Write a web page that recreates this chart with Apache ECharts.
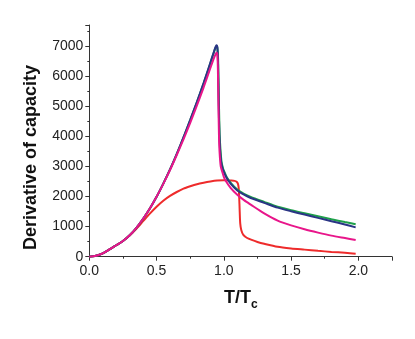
<!DOCTYPE html>
<html>
<head>
<meta charset="utf-8">
<script src="https://cdn.jsdelivr.net/npm/echarts@6/dist/echarts.min.js"></script>
<style>
html,body{margin:0;padding:0;background:#fff;}
#c{width:415px;height:339px;}
</style>
</head>
<body>
<div id="c"></div>
<script>
// ---- data ----
const xNavy = [0,0.05,0.1,0.15,0.2,0.25,0.3,0.35,0.4,0.45,0.5,0.55,0.6,0.65,0.7,0.75,0.8,0.85,0.9,0.93,0.945,0.952,0.957,0.962,0.967,0.972,0.98,0.99,1.0,1.02,1.05,1.1,1.15,1.2,1.3,1.4,1.5,1.6,1.7,1.8,1.9,1.98];
const yNavy = [0,30,110,240,380,520,710,960,1260,1600,1990,2430,2900,3420,3970,4550,5150,5780,6450,6860,7030,6950,6400,5000,4057,3557,3150,2950,2820,2620,2430,2200,2060,1950,1790,1630,1510,1400,1290,1180,1070,975];

const xGreen = [0,0.05,0.1,0.15,0.2,0.25,0.3,0.35,0.4,0.45,0.5,0.55,0.6,0.65,0.7,0.75,0.8,0.85,0.9,0.93,0.945,0.952,0.958,0.964,0.969,0.975,0.983,0.993,1.0,1.02,1.05,1.1,1.15,1.2,1.3,1.4,1.5,1.6,1.7,1.8,1.9,1.98];
const yGreen = [0,30,110,240,380,520,710,960,1260,1600,1990,2430,2900,3410,3960,4540,5130,5760,6430,6840,7000,6950,6500,5000,4057,3557,3150,2950,2860,2660,2460,2230,2090,1985,1820,1660,1545,1445,1345,1245,1150,1080];

const xMagenta = [0,0.05,0.1,0.15,0.2,0.25,0.3,0.35,0.4,0.45,0.5,0.55,0.6,0.65,0.7,0.75,0.8,0.85,0.9,0.93,0.945,0.952,0.956,0.96,0.964,0.968,0.977,0.99,1.0,1.01,1.05,1.1,1.15,1.2,1.3,1.4,1.5,1.6,1.7,1.8,1.9,1.98];
const yMagenta = [0,30,110,240,380,520,710,960,1260,1600,1990,2420,2880,3380,3900,4450,5030,5630,6270,6640,6780,6700,6200,5000,4000,3500,3000,2800,2650,2550,2290,2060,1880,1730,1440,1200,1040,910,800,700,620,557];

const xRed = [0,0.05,0.1,0.15,0.2,0.25,0.3,0.35,0.4,0.45,0.5,0.55,0.6,0.65,0.7,0.75,0.8,0.85,0.9,0.95,1.0,1.05,1.08,1.095,1.105,1.11,1.114,1.118,1.122,1.13,1.145,1.17,1.207,1.25,1.3,1.4,1.5,1.6,1.7,1.8,1.9,1.98];
const yRed = [0,30,110,240,380,520,705,930,1180,1430,1660,1860,2020,2150,2260,2340,2410,2460,2500,2530,2540,2530,2520,2490,2420,2300,2000,1500,1100,880,723,630,557,490,430,330,275,235,195,160,130,100];

const xTicks = [0,0.5,1.0,1.5,2.0];
const yTicks = [0,1000,2000,3000,4000,5000,6000,7000];
const yTitle = 'Derivative of capacity';
const xTitleMain = 'T/T';
const xTitleSub = 'c';

function zip(xs, ys){ return xs.map((x,i)=>[x, ys[i]]); }

const chart = echarts.init(document.getElementById('c'), null, {renderer:'canvas'});
const font = 'Liberation Sans, Arial, Helvetica, sans-serif';
function lineSeries(name, xs, ys, color){
  return {
    name, type:'line', data: zip(xs, ys), showSymbol:false,
    smooth:0.25,
    lineStyle:{color, width:2}, itemStyle:{color}, animation:false
  };
}
chart.setOption({
  animation:false,
  backgroundColor:'#fff',
  grid:{left:89.3, right:23, top:25, bottom:82.3, containLabel:false},
  xAxis:{
    type:'value', min:0, max:2.25, interval:0.5,
    axisLine:{show:true, onZero:false, lineStyle:{color:'#333', width:1}},
    axisTick:{show:true, length:4, inside:false, lineStyle:{color:'#333'}},
    minorTick:{show:true, splitNumber:2, length:2, lineStyle:{color:'#333'}},
    splitLine:{show:false},
    axisLabel:{show:true, color:'#222', fontSize:14, fontFamily:font, margin:7, showMaxLabel:false,
      formatter:v=> xTicks.includes(v) ? v.toFixed(1) : ''}
  },
  yAxis:{
    type:'value', min:0, max:7700, interval:1000,
    axisLine:{show:true, onZero:false, lineStyle:{color:'#333', width:1}},
    axisTick:{show:true, length:4, lineStyle:{color:'#333'}},
    minorTick:{show:true, splitNumber:2, length:2, lineStyle:{color:'#333'}},
    splitLine:{show:false},
    axisLabel:{show:true, color:'#222', fontSize:14, fontFamily:font, margin:6, showMaxLabel:false,
      formatter:v=> yTicks.includes(v) ? String(v) : ''}
  },
  series:[
    lineSeries('red', xRed, yRed, '#ee2b2b'),
    lineSeries('green', xGreen, yGreen, '#1ea04a'),
    lineSeries('navy', xNavy, yNavy, '#2a3585'),
    lineSeries('magenta', xMagenta, yMagenta, '#e8168a')
  ],
  graphic:[
    {type:'text', left:22, top:65, rotation:Math.PI/2, style:{text:yTitle, fontSize:18, fontWeight:'bold', fontFamily:font, fill:'#111'},
     originX:0, originY:0},
    {type:'text', x:224, y:289, style:{text:xTitleMain, fontSize:18, fontWeight:'bold', fontFamily:font, fill:'#111'}},
    {type:'text', x:251, y:299, style:{text:xTitleSub, fontSize:12, fontWeight:'bold', fontFamily:font, fill:'#111'}}
  ]
});
</script>
</body>
</html>
